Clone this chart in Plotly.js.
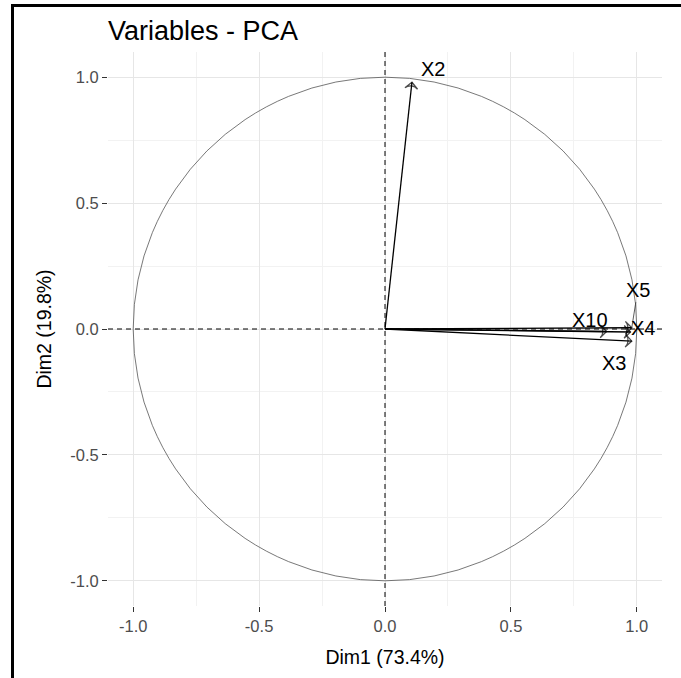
<!DOCTYPE html>
<html>
<head>
<meta charset="utf-8">
<script src="https://cdn.plot.ly/plotly-3.0.1.min.js"></script>
<style>
  html, body { margin: 0; padding: 0; background: #fff; }
  #wrap { position: relative; width: 681px; height: 678px; }
  #plot { position: absolute; left: 0; top: 0; width: 681px; height: 678px; }
  #frame { position: absolute; left: 11px; top: 4px; width: 680px; height: 684px;
           border-left: 3px solid #000; border-top: 3px solid #000; pointer-events: none; }
</style>
</head>
<body>
<div id="wrap"><div id="plot"></div><div id="frame"></div></div>
<script>
// Variable coordinates (Dim1, Dim2)
const variables = ["X2", "X10", "X5", "X4", "X3"];
const dim1 = [0.107, 0.88, 0.98, 0.975, 0.98];
const dim2 = [0.98, -0.01, 0.005, -0.012, -0.048];

const tickVals = [-1.0, -0.5, 0.0, 0.5, 1.0];
const tickText = ["-1.0", "-0.5", "0.0", "0.5", "1.0"];
const minorVals = [-0.75, -0.25, 0.25, 0.75];

const xTitle = "Dim1 (73.4%)";
const yTitle = "Dim2 (19.8%)";
const chartTitle = "Variables - PCA";

// label placement (pixel offsets from arrow tip) – styling only
const labelStyle = {
  "X2":  {ax: 21, ay: -13, line: false},
  "X10": {ax: -17, ay: -12, line: false},
  "X5":  {ax: 6, ay: -38, line: true},
  "X4":  {ax: 12, ay: -4, line: false},
  "X3":  {ax: -18, ay: 22, line: false}
};

const FONT = "Liberation Sans, Arial, sans-serif";

const traces = variables.map((v, i) => ({
  type: "scatter",
  mode: "lines+markers",
  x: [0, dim1[i]],
  y: [0, dim2[i]],
  line: {color: "#000", width: 1.3},
  marker: {symbol: "arrow-wide-open", size: [0, 9], angleref: "previous",
           color: "#000", line: {color: "#000", width: 1.3}},
  hoverinfo: "skip",
  showlegend: false
}));

const annotations = variables.map((v, i) => {
  const s = labelStyle[v];
  return {
    x: dim1[i], y: dim2[i], xref: "x", yref: "y",
    text: v, showarrow: true,
    ax: s.ax, ay: s.ay,
    arrowwidth: s.line ? 0.8 : 0.01,
    arrowcolor: s.line ? "#333" : "rgba(0,0,0,0)",
    arrowhead: 0, standoff: 0,
    font: {family: FONT, size: 20, color: "#000"}
  };
});

const gridAxis = (titleText, standoff) => ({
  range: [-1.1, 1.1],
  tickmode: "array",
  tickvals: tickVals,
  ticktext: tickText,
  ticks: "outside",
  ticklen: 5,
  tickwidth: 1,
  tickcolor: "#333",
  tickfont: {family: FONT, size: 16.5, color: "#4d4d4d"},
  showgrid: true,
  gridcolor: "#e6e6e6",
  gridwidth: 1,
  minor: {tickvals: minorVals, showgrid: true, gridcolor: "#f2f2f2", gridwidth: 1, ticks: ""},
  zeroline: false,
  showline: false,
  title: {text: titleText, font: {family: FONT, size: 19.5, color: "#000"}, standoff: standoff},
  fixedrange: true
});

const layout = {
  width: 681, height: 678,
  margin: {l: 108, r: 19, t: 52, b: 72},
  paper_bgcolor: "#fff",
  plot_bgcolor: "#fff",
  title: {text: chartTitle, font: {family: FONT, size: 27, color: "#000"},
          xref: "paper", x: 0, xanchor: "left",
          yref: "container", y: 1 - 31/678, yanchor: "middle"},
  xaxis: gridAxis(xTitle, 16),
  yaxis: gridAxis(yTitle, 13),
  shapes: [
    {type: "circle", xref: "x", yref: "y", x0: -1, y0: -1, x1: 1, y1: 1,
     line: {color: "#555", width: 0.8}, layer: "above"},
    {type: "line", xref: "x", yref: "paper", x0: 0, x1: 0, y0: 0, y1: 1,
     line: {color: "#000", width: 1, dash: "5px,4px"}},
    {type: "line", xref: "paper", yref: "y", x0: 0, x1: 1, y0: 0, y1: 0,
     line: {color: "#000", width: 1, dash: "5px,4px"}}
  ],
  annotations: annotations
};

Plotly.newPlot("plot", traces, layout, {staticPlot: true, displayModeBar: false});
</script>
</body>
</html>
